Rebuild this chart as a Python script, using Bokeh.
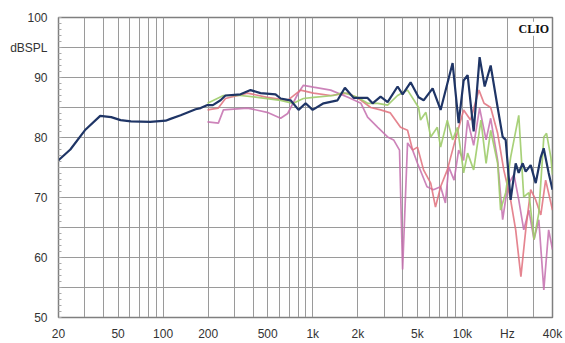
from bokeh.plotting import figure
from bokeh.models import FixedTicker, Label
from bokeh.embed import file_html
from bokeh.resources import INLINE

# ---- data (frequency in Hz, level in dBSPL) ----
blue_f = [20, 24, 30, 38, 45, 52, 61, 82, 104, 112, 131, 165, 178, 198, 215, 242, 261, 329, 384, 448,
          564, 610, 711, 804, 896, 998, 1181, 1464, 1640, 1875, 2325, 2511, 2840, 3164, 3690, 3985, 4508,
          5095, 5508, 6325, 7150, 8600, 9440, 10190, 10840, 11890, 13030, 14090, 15450, 17200, 18580,
          19460, 21000, 22700, 23770, 25290, 26480, 28600, 30900, 33370, 34930, 37700, 40000]
blue_db = [76.2, 78.0, 81.2, 83.6, 83.4, 82.9, 82.7, 82.6, 82.8, 83.1, 83.7, 84.7, 84.9, 85.4, 85.4, 86.2,
           87.0, 87.2, 87.9, 87.4, 87.2, 86.5, 86.2, 84.6, 85.7, 84.6, 85.7, 86.2, 88.3, 86.6, 86.6, 85.7,
           86.8, 85.9, 88.5, 87.2, 89.2, 86.7, 86.2, 88.2, 84.6, 92.4, 82.4, 89.5, 90.4, 81.0, 93.4, 88.5,
           92.0, 85.0, 80.1, 79.6, 69.6, 75.7, 74.1, 75.7, 74.3, 75.4, 72.4, 76.7, 78.2, 74.1, 71.3]

red_f = [198, 234, 261, 366, 496, 680, 828, 1011, 1318, 1718, 2100, 2440, 2840, 3300, 3860, 4300, 4650,
         5010, 5500, 6140, 6610, 7150, 7930, 8960, 10190, 11330, 12900, 13950, 15450, 17200, 18900, 21000,
         22700, 24600, 26500, 28600, 30900, 33400, 36000, 40000]
red_db = [84.6, 84.9, 86.5, 87.4, 86.7, 86.2, 87.9, 87.4, 87.0, 87.4, 86.2, 85.0, 84.6, 84.1, 81.7, 81.2,
          77.9, 78.4, 74.6, 72.4, 68.4, 71.8, 74.6, 79.6, 84.6, 82.9, 87.9, 85.7, 85.0, 80.7, 74.6, 69.6,
          64.6, 56.8, 64.6, 71.3, 69.6, 67.1, 72.9, 67.9]

mag_f = [198, 234, 253, 366, 496, 610, 680, 804, 866, 1011, 1318, 1718, 2100, 2325, 2720, 3164, 3470,
         3800, 3985, 4300, 4650, 5010, 5800, 6400, 7150, 7700, 8100, 8800, 9440, 10190, 10840, 11890,
         13030, 14400, 15450, 17200, 18580, 20100, 22100, 23800, 25700, 27800, 30100, 32400, 35000,
         37700, 40000]
mag_db = [82.6, 82.4, 84.6, 84.9, 84.2, 83.2, 84.0, 87.5, 88.7, 88.4, 87.9, 86.7, 85.7, 83.4, 81.7, 80.1,
          79.6, 77.9, 58.0, 79.1, 77.9, 75.7, 71.8, 71.3, 71.8, 69.1, 75.1, 72.9, 77.9, 76.2, 82.9, 78.7,
          84.9, 79.6, 83.2, 76.2, 66.3, 72.1, 73.8, 69.6, 64.6, 67.9, 63.0, 66.3, 54.6, 64.6, 61.3]

green_f = [198, 253, 329, 427, 610, 742, 866, 1011, 1376, 1600, 1990, 2325, 2720, 3164, 3690, 4300, 4750,
           5095, 5250, 5700, 6140, 6800, 7150, 7930, 8600, 9280, 10190, 10840, 11890, 13300, 14400, 15450,
           17200, 18000, 19460, 21000, 23800, 25700, 27800, 30100, 32400, 35000, 36500, 39000, 40000]
green_db = [85.7, 87.0, 87.0, 86.7, 86.2, 85.7, 86.5, 86.7, 87.0, 87.5, 86.7, 85.7, 85.7, 85.4, 87.0, 87.9,
            86.2, 85.0, 82.9, 84.2, 80.1, 81.7, 78.4, 82.9, 79.6, 81.7, 74.1, 77.4, 74.6, 82.9, 75.7, 81.2,
            75.7, 67.9, 70.8, 76.7, 83.7, 70.1, 70.8, 63.0, 67.4, 80.1, 80.7, 76.7, 73.8]

x_ticks = [20, 50, 100, 200, 500, 1000, 2000, 5000, 10000, 20000, 40000]
x_tick_labels = ["20", "50", "100", "200", "500", "1k", "2k", "5k", "10k", "Hz", "40k"]
x_grid = [20, 30, 40, 50, 60, 70, 80, 90, 100, 200, 300, 400, 500, 600, 700, 800, 900, 1000,
          2000, 3000, 4000, 5000, 6000, 7000, 8000, 9000, 10000, 20000, 30000, 40000]
y_ticks = [50, 60, 70, 80, 90, 95, 100]
y_tick_labels = ["50", "60", "70", "80", "90", "dBSPL", "100"]
y_grid = [50, 55, 60, 65, 70, 75, 80, 85, 90, 95, 100]

p = figure(width=565, height=343, x_axis_type="log", x_range=(20, 40000), y_range=(50, 100),
           output_backend="svg", toolbar_location=None,
           min_border_left=58, min_border_right=13, min_border_top=17, min_border_bottom=23)

p.background_fill_color = "white"
p.border_fill_color = "white"
p.outline_line_color = "#7f7f7f"
p.outline_line_width = 1.5

p.xaxis.ticker = FixedTicker(ticks=x_ticks)
p.xaxis.major_label_overrides = {t: l for t, l in zip(x_ticks, x_tick_labels)}
p.yaxis.ticker = FixedTicker(ticks=y_ticks, minor_ticks=list(range(50, 101)))
p.yaxis.major_label_overrides = {t: l for t, l in zip(y_ticks, y_tick_labels)}

for ax in (p.xaxis[0], p.yaxis[0]):
    ax.axis_line_color = "#7f7f7f"
    ax.major_tick_line_color = None
    ax.major_label_text_font = "Liberation Sans"
    ax.major_label_text_font_size = "12px"
    ax.major_label_text_color = "#333333"
p.xaxis.minor_tick_line_color = None
p.yaxis.minor_tick_line_color = "#aaaaaa"
p.yaxis.minor_tick_in = 3
p.yaxis.minor_tick_out = 0
p.xaxis.major_label_standoff = 3
p.yaxis.major_label_standoff = 5

p.xgrid.ticker = FixedTicker(ticks=x_grid)
p.ygrid.ticker = FixedTicker(ticks=y_grid)
p.xgrid.grid_line_color = "#9a9a9a"
p.ygrid.grid_line_color = "#9a9a9a"
p.xgrid.grid_line_width = 1
p.ygrid.grid_line_width = 1

p.line(mag_f, mag_db, line_color="#c46fae", line_width=1.7, line_alpha=0.85)
p.line(red_f, red_db, line_color="#e0707c", line_width=1.7, line_alpha=0.85)
p.line(green_f, green_db, line_color="#9fcc6a", line_width=1.7, line_alpha=0.9)
p.line(blue_f, blue_db, line_color="#1f3566", line_width=2.2)

p.add_layout(Label(x=38000, y=99.3, text="CLIO", text_align="right", text_baseline="top",
                   text_font="Liberation Serif", text_font_style="bold", text_font_size="12px",
                   text_color="#111111", background_fill_color="white"))

open("out.html", "w").write(file_html(p, INLINE))
